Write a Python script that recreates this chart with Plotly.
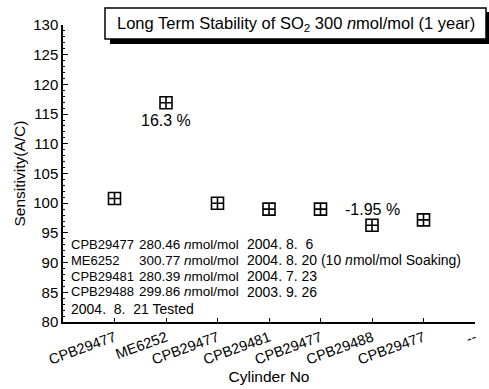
import plotly.graph_objects as go

# ---- data ----
cylinders = ["CPB29477", "ME6252", "CPB29477", "CPB29481", "CPB29477", "CPB29488", "CPB29477", "--"]
sensitivity = [100.8, 116.9, 100.0, 99.0, 99.0, 96.3, 97.2]
pct_labels = ["16.3 %", "-1.95 %"]
pct_x = [1, 5]
pct_y = [114.0, 98.9]

info_names = ["CPB29477", "ME6252", "CPB29481", "CPB29488"]
info_conc = ["280.46", "300.77", "280.39", "299.86"]
info_dates = ["2004. 8.  6", "2004. 8. 20 (10 <i>n</i>mol/mol Soaking)", "2004. 7. 23", "2003. 9. 26"]
info_y = [93.1, 90.4, 87.7, 85.1]
tested_text = "2004.  8.  21 Tested"
tested_y = 82.2

title_text = "Long Term Stability of SO<sub>2</sub> 300 <i>n</i>mol/mol (1 year)"

FONT = "Liberation Sans, Arial, sans-serif"

xs = list(range(len(sensitivity)))

fig = go.Figure()
fig.add_trace(go.Scatter(
    x=xs, y=sensitivity, mode="markers",
    marker=dict(symbol="square-cross-open", size=12, color="black", line=dict(width=1.6, color="black")),
    showlegend=False, hoverinfo="skip"))

annotations = []
for t, px, py in zip(pct_labels, pct_x, pct_y):
    annotations.append(dict(x=px, y=py, xref="x", yref="y", text=t, showarrow=False,
                            xanchor="center", yanchor="middle",
                            font=dict(size=16, color="black", family=FONT)))

x_name = (69 - 63) / 412
x_conc_right = (241 - 63) / 412
x_date = (245 - 63) / 412
for n, c, d, yy in zip(info_names, info_conc, info_dates, info_y):
    annotations.append(dict(x=x_name, y=yy, xref="paper", yref="y", xanchor="left", yanchor="middle",
                            text=n, showarrow=False, font=dict(size=13, color="black", family=FONT)))
    annotations.append(dict(x=x_conc_right, y=yy, xref="paper", yref="y", xanchor="right", yanchor="middle",
                            text=c + " <i>n</i>mol/mol", showarrow=False,
                            font=dict(size=13.5, color="black", family=FONT)))
    annotations.append(dict(x=x_date, y=yy, xref="paper", yref="y", xanchor="left", yanchor="middle",
                            text=d, showarrow=False, font=dict(size=14, color="black", family=FONT)))
annotations.append(dict(x=x_name, y=tested_y, xref="paper", yref="y", xanchor="left", yanchor="middle",
                        text=tested_text, showarrow=False, font=dict(size=14, color="black", family=FONT)))

annotations.append(dict(x=((105 + 486) / 2 - 63) / 412, y=(322 - 24) / 297,
                        xref="paper", yref="paper", xanchor="center", yanchor="middle",
                        text=title_text, showarrow=False,
                        font=dict(size=16.5, color="black", family=FONT)))

shapes = [
    dict(type="rect", xref="paper", yref="paper",
         x0=(110 - 63) / 412, x1=(489 - 63) / 412, y0=(322 - 44) / 297, y1=(322 - 12) / 297,
         fillcolor="black", line=dict(width=0)),
    dict(type="rect", xref="paper", yref="paper",
         x0=(105 - 63) / 412, x1=(486 - 63) / 412, y0=(322 - 39) / 297, y1=(322 - 8) / 297,
         fillcolor="white", line=dict(width=1.5, color="black")),
]

fig.update_layout(
    width=489, height=389,
    margin=dict(l=63, r=14, t=25, b=67, autoexpand=False),
    paper_bgcolor="white", plot_bgcolor="white",
    font=dict(family=FONT, color="black", size=13),
    showlegend=False,
    annotations=annotations,
    shapes=shapes,
    xaxis=dict(
        range=[-1, 7], tickvals=list(range(len(cylinders))), ticktext=cylinders,
        tickangle=-20, showgrid=False, zeroline=False,
        showline=True, linecolor="black", linewidth=1.5,
        ticks="inside", ticklen=4, tickcolor="black",
        tickfont=dict(size=14.5, family=FONT),
        title=dict(text="Cylinder No", font=dict(size=15.5, family=FONT), standoff=4),
    ),
    yaxis=dict(
        range=[80, 130], dtick=5, showgrid=False, zeroline=False,
        showline=True, linecolor="black", linewidth=1.5,
        ticks="inside", ticklen=5, tickcolor="black",
        minor=dict(dtick=1, ticks="inside", ticklen=2, tickcolor="black"),
        tickfont=dict(size=15, family=FONT),
        title=dict(text="Sensitivity(A/C)", font=dict(size=15.5, family=FONT), standoff=4),
    ),
)

fig.write_html("out.html", config={"displayModeBar": False},
               post_script="document.body.style.margin='0';document.body.style.overflow='hidden';")
